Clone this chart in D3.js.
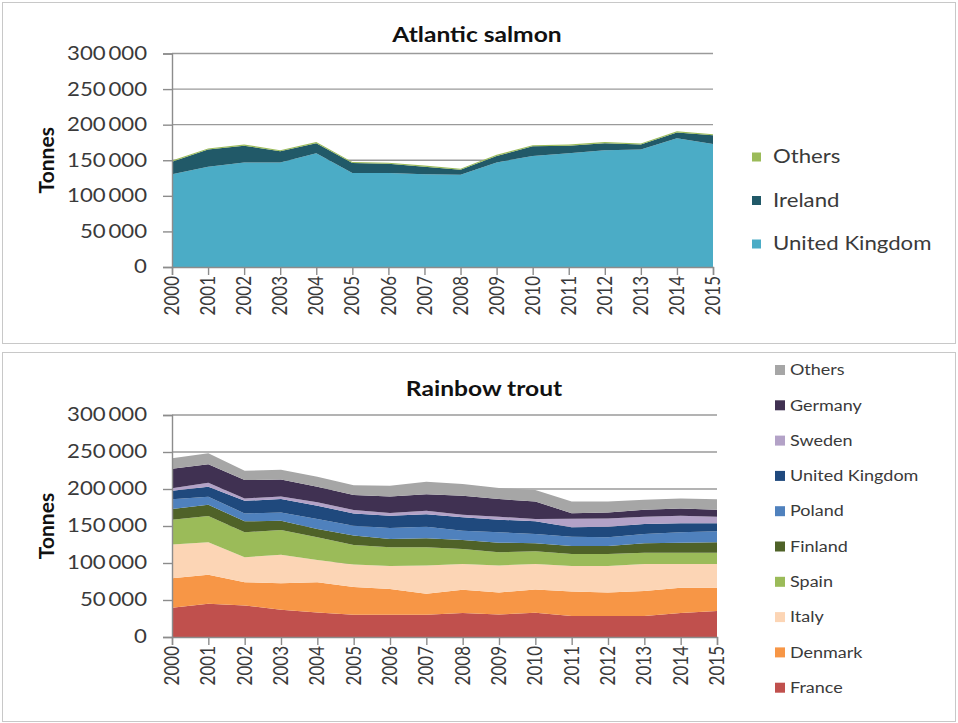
<!DOCTYPE html>
<html>
<head>
<meta charset="utf-8">
<script src="https://cdn.jsdelivr.net/npm/d3@7"></script>
<style>
  html, body { margin: 0; padding: 0; background: #fff; }
  svg { display: block; }
  text { font-family: Lato, "Open Sans", sans-serif; fill: #3a3a3a; }
</style>
</head>
<body>
<svg id="chart" width="958" height="723"></svg>
<script>
// Aquaculture production in tonnes, 2000-2015
const years = [2000, 2001, 2002, 2003, 2004, 2005, 2006, 2007, 2008, 2009, 2010, 2011, 2012, 2013, 2014, 2015];
const yTicks = [0, 50000, 100000, 150000, 200000, 250000, 300000];

// Atlantic salmon (stack order bottom -> top)
const salmonKeys = ["United Kingdom", "Ireland", "Others"];
const salmonUK      = [130500, 141000, 147000, 147000, 160000, 132000, 132000, 130500, 129500, 147000, 156000, 160000, 164000, 165000, 181000, 173000];
const salmonIreland = [17500, 24000, 23500, 15500, 14000, 14000, 13000, 10500, 7000, 9000, 13500, 10500, 10000, 7000, 8000, 12000];
const salmonOthers  = [1500, 1600, 1700, 1500, 1600, 1400, 1400, 1500, 1500, 1600, 1700, 1600, 1700, 1600, 1700, 1700];
const salmonColors  = ["#4BACC6", "#215968", "#9BBB59"];

// Rainbow trout (stack order bottom -> top)
const troutKeys = ["France", "Denmark", "Italy", "Spain", "Finland", "Poland", "United Kingdom", "Sweden", "Germany", "Others"];
const troutFrance  = [39500, 45000, 42700, 36800, 33200, 30000, 30000, 30000, 32300, 30500, 32800, 28300, 28300, 28300, 32300, 35000];
const troutDenmark = [40000, 39000, 31300, 36000, 40800, 37400, 34700, 28400, 31500, 29700, 31400, 33200, 31900, 33700, 34200, 31500];
const troutItaly   = [45400, 44000, 33800, 38200, 30000, 30600, 31300, 38200, 35000, 36400, 34600, 34500, 35800, 36800, 32300, 32300];
const troutSpain   = [33600, 35500, 33700, 33600, 30700, 26400, 25300, 24700, 20200, 17900, 17100, 16300, 16300, 15200, 15200, 15200];
const troutFinland = [14500, 15200, 14800, 12600, 11300, 12600, 11200, 12100, 12100, 13000, 10700, 10700, 10700, 12600, 13500, 14000];
const troutPoland  = [13000, 10800, 10700, 11200, 13400, 13400, 14800, 15600, 12600, 14000, 12600, 12600, 11700, 12600, 14000, 14800];
const troutUK      = [11600, 13500, 17000, 18000, 18000, 16600, 16700, 17000, 18000, 17000, 17100, 12600, 14300, 13500, 12100, 10800];
const troutSweden  = [3400, 5400, 3300, 3600, 4600, 4600, 3500, 4700, 3600, 4100, 3100, 11500, 11300, 9900, 10400, 9000];
const troutGermany = [26200, 25100, 24700, 22900, 21000, 20200, 22500, 22300, 25600, 23800, 23800, 7500, 8100, 9400, 9800, 9400];
const troutOthers  = [14400, 14900, 12600, 13100, 13500, 13400, 14300, 16800, 15700, 14800, 15300, 15800, 14800, 13500, 13500, 14000];
const troutColors  = ["#C0504D", "#F79646", "#FCD5B5", "#9BBB59", "#4F6228", "#4F81BD", "#1F497D", "#B3A2C7", "#403152", "#A6A6A6"];

const SX = 1.2; // horizontal stretch of the text glyphs
const fmt = v => v === 0 ? "0" : d3.format(",")(v).replace(/,/g, "\u2009");

const svg = d3.select("#chart");

function label(g, x, y, s, o = {}) {
  const rot = o.rotate ? ` rotate(${o.rotate})` : "";
  const sx = o.sx != null ? o.sx : SX;
  return g.append("text")
    .attr("transform", `translate(${x},${y}) scale(${sx},1)${rot}`)
    .attr("text-anchor", o.anchor || "start")
    .attr("dy", o.dy || "0.35em")
    .style("font-size", (o.size || 17) + "px")
    .style("font-weight", o.bold ? "700" : "400")
    .style("fill", o.fill || "#3a3a3a")
    .text(s);
}

function buildRows(series) {
  return years.map((yr, i) => {
    const row = { year: yr };
    series.forEach(([k, arr]) => { row[k] = arr[i]; });
    return row;
  });
}

function drawPanel(cfg) {
  // panel frame
  svg.append("rect")
    .attr("x", cfg.frame[0] + 0.5).attr("y", cfg.frame[1] + 0.5)
    .attr("width", cfg.frame[2]).attr("height", cfg.frame[3])
    .attr("fill", "#fff").attr("stroke", "#c8c8c8");

  const g = svg.append("g");
  const x = d3.scaleLinear().domain([years[0], years[years.length - 1]]).range([cfg.left, cfg.right]);
  const y = d3.scaleLinear().domain([0, 300000]).range([cfg.bottom, cfg.top]);

  // gridlines
  g.append("g").selectAll("line").data(yTicks.filter(t => t > 0)).join("line")
    .attr("x1", cfg.left).attr("x2", cfg.right)
    .attr("y1", d => y(d)).attr("y2", d => y(d))
    .attr("stroke", "#9a9a9a").attr("stroke-width", 1.4);

  // stacked areas
  const rows = buildRows(cfg.series);
  const stack = d3.stack().keys(cfg.series.map(s => s[0]));
  const layers = stack(rows);
  const area = d3.area()
    .x(d => x(d.data.year))
    .y0(d => y(d[0]))
    .y1(d => y(d[1]));
  g.append("g").selectAll("path").data(layers).join("path")
    .attr("d", area)
    .attr("fill", (d, i) => cfg.colors[i]);

  // y axis
  const ya = g.append("g").attr("transform", `translate(${cfg.left},0)`)
    .call(d3.axisLeft(y).tickValues(yTicks).tickSize(9).tickFormat(""));
  ya.select(".domain").attr("stroke", "#8c8c8c").attr("stroke-width", 1.4);
  ya.selectAll(".tick line").attr("stroke", "#8c8c8c").attr("stroke-width", 1.4);
  yTicks.forEach(t => label(g, cfg.left - 25, y(t), fmt(t), { anchor: "end", size: 18.5 }));

  // x axis
  const xa = g.append("g").attr("transform", `translate(0,${cfg.bottom})`)
    .call(d3.axisBottom(x).tickValues(years).tickSize(8).tickFormat(""));
  xa.select(".domain").attr("stroke", "#8c8c8c").attr("stroke-width", 1.4);
  xa.selectAll(".tick line").attr("stroke", "#8c8c8c").attr("stroke-width", 1.4);
  years.forEach(yr => label(g, x(yr), cfg.bottom + 9, String(yr), { anchor: "end", rotate: -90, size: 17 }));

  // titles
  label(g, cfg.titleX, cfg.titleY, cfg.title, { anchor: "middle", bold: true, size: 20.5, fill: "#111" });
  label(g, cfg.yTitleX, (cfg.top + cfg.bottom) / 2, "Tonnes", { anchor: "middle", rotate: -90, bold: true, size: 21, sx: 1, fill: "#111" });

  // legend (top series first)
  const lg = g.append("g");
  const keys = cfg.series.map(s => s[0]);
  keys.slice().reverse().forEach((k, j) => {
    const i = keys.length - 1 - j;
    const cy = cfg.legend.y0 + j * cfg.legend.step;
    lg.append("rect")
      .attr("x", cfg.legend.x).attr("y", cy - cfg.legend.box / 2)
      .attr("width", cfg.legend.box).attr("height", cfg.legend.box)
      .attr("fill", cfg.colors[i]);
    label(lg, cfg.legend.x + cfg.legend.box + cfg.legend.gap, cy, k, { size: cfg.legend.size });
  });
}

drawPanel({
  frame: [2, 2, 953, 341],
  left: 172, right: 713, top: 53.5, bottom: 267,
  title: "Atlantic salmon", titleX: 477, titleY: 35,
  yTitleX: 47,
  series: [[salmonKeys[0], salmonUK], [salmonKeys[1], salmonIreland], [salmonKeys[2], salmonOthers]],
  colors: salmonColors,
  legend: { x: 752, y0: 157, step: 43.5, box: 9, gap: 12, size: 18.5 }
});

drawPanel({
  frame: [2, 352, 953, 369],
  left: 172, right: 717, top: 415, bottom: 637,
  title: "Rainbow trout", titleX: 484, titleY: 389,
  yTitleX: 47,
  series: [
    [troutKeys[0], troutFrance], [troutKeys[1], troutDenmark], [troutKeys[2], troutItaly],
    [troutKeys[3], troutSpain], [troutKeys[4], troutFinland], [troutKeys[5], troutPoland],
    [troutKeys[6], troutUK], [troutKeys[7], troutSweden], [troutKeys[8], troutGermany],
    [troutKeys[9], troutOthers]
  ],
  colors: troutColors,
  legend: { x: 775, y0: 370, step: 35.3, box: 10, gap: 5, size: 15 }
});
</script>
</body>
</html>
